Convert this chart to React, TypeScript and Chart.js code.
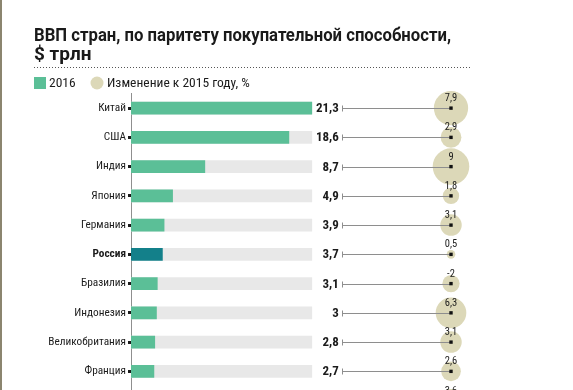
import React, { useEffect, useRef } from 'react';
import { Chart, registerables } from 'chart.js';

Chart.register(...registerables);

// ---------- data ----------
const TITLE = ['ВВП стран, по паритету покупательной способности,', '$ трлн'];
const LEGEND_LABELS = ['2016', 'Изменение к 2015 году, %'];
const COUNTRIES = ['Китай', 'США', 'Индия', 'Япония', 'Германия', 'Россия', 'Бразилия', 'Индонезия', 'Великобритания', 'Франция', 'Мексика'];
const GDP_2016 = [21.3, 18.6, 8.7, 4.9, 3.9, 3.7, 3.1, 3, 2.8, 2.7, 2.3];
const CHANGE_PCT = [7.9, 2.9, 9, 1.8, 3.1, 0.5, -2, 6.3, 3.1, 2.6, 3.6];
const HIGHLIGHT = 'Россия';

// ---------- style ----------
const FAMILY = 'Roboto, "Noto Sans", sans-serif';
const GREEN = '#5bbf97';
const TEAL = '#13808a';
const TRACK = '#e8e8e8';
const BEIGE = '#dcd8b8';
const INK = '#1b1b1b';
const LINE = '#8e8e8e';
const X_MAX = 37.7; // value axis range (bars take the left part, bubble column sits at the right edge)
const R_K = 6.1; // bubble radius per sqrt(|%|)

const fmt = (v: number) => String(v).replace('.', ',');
const GDP_MAX = Math.max(...GDP_2016);

const decor = {
  id: 'decor',
  beforeDatasetDraw(chart: any, args: any) {
    if (args.index !== 3) return;
    const ctx = chart.ctx;
    const track = chart.getDatasetMeta(0);
    const bub = chart.getDatasetMeta(2);
    ctx.save();
    track.data.forEach((bar: any, i: number) => {
      const y = Math.round(bar.y) + 0.5;
      const xEnd = bar.x;
      const cx = bub.data[i].x;
      ctx.fillStyle = INK;
      ctx.font = `bold condensed 13px ${FAMILY}`;
      ctx.textAlign = 'right';
      ctx.textBaseline = 'middle';
      ctx.fillText(fmt(GDP_2016[i]), xEnd + 27, y);
      ctx.strokeStyle = LINE;
      ctx.lineWidth = 1;
      const sx = Math.round(xEnd + 30) + 0.5;
      ctx.beginPath();
      ctx.moveTo(sx, y - 3);
      ctx.lineTo(sx, y + 3);
      ctx.moveTo(sx, y);
      ctx.lineTo(cx, y);
      ctx.stroke();
      ctx.font = `normal condensed 10.5px ${FAMILY}`;
      ctx.textAlign = 'center';
      ctx.fillText(fmt(CHANGE_PCT[i]), cx, y - 10);
    });
    ctx.restore();
  },
  afterDraw(chart: any) {
    const ctx = chart.ctx;
    const top = chart.chartArea.top;
    const left = 34;
    ctx.save();
    // dotted rule
    ctx.strokeStyle = '#555';
    ctx.lineWidth = 1;
    ctx.setLineDash([1, 2]);
    ctx.beginPath();
    const dy = Math.round(top - 26.5) + 0.5;
    ctx.moveTo(left, dy);
    ctx.lineTo(472, dy);
    ctx.stroke();
    ctx.setLineDash([]);
    // legend
    const ly = top - 10.5;
    ctx.fillStyle = GREEN;
    ctx.fillRect(left, ly - 6, 12, 12);
    ctx.fillStyle = INK;
    ctx.font = `normal condensed 13.5px ${FAMILY}`;
    ctx.textAlign = 'left';
    ctx.textBaseline = 'middle';
    ctx.fillText(LEGEND_LABELS[0], left + 15, ly + 0.5);
    ctx.fillStyle = BEIGE;
    ctx.beginPath();
    ctx.arc(97, ly, 6.5, 0, Math.PI * 2);
    ctx.fill();
    ctx.fillStyle = INK;
    ctx.fillText(LEGEND_LABELS[1], 107, ly + 0.5);
    ctx.restore();
  },
};

export default function App() {
  const ref = useRef<HTMLCanvasElement>(null);
  useEffect(() => {
    const chart = new Chart(ref.current as HTMLCanvasElement, {
      type: 'bar',
      data: {
        labels: COUNTRIES,
        datasets: [
          {
            type: 'bar',
            label: 'track',
            data: GDP_2016.map(() => GDP_MAX),
            backgroundColor: TRACK,
            barThickness: 12,
            grouped: false,
            order: 4,
            xAxisID: 'x',
            yAxisID: 'y',
          } as any,
          {
            type: 'bar',
            label: LEGEND_LABELS[0],
            data: GDP_2016,
            backgroundColor: COUNTRIES.map((c) => (c === HIGHLIGHT ? TEAL : GREEN)),
            barThickness: 12,
            grouped: false,
            order: 3,
            xAxisID: 'x',
            yAxisID: 'y',
          } as any,
          {
            type: 'bubble',
            label: LEGEND_LABELS[1],
            data: COUNTRIES.map((c, i) => ({ x: 1, y: c, r: R_K * Math.sqrt(Math.abs(CHANGE_PCT[i])) })),
            backgroundColor: BEIGE,
            borderWidth: 0,
            clip: false,
            order: 2,
            xAxisID: 'xb',
            yAxisID: 'y',
          } as any,
          {
            type: 'bubble',
            label: 'center',
            data: COUNTRIES.map((c) => ({ x: 1, y: c, r: 2.4 })),
            backgroundColor: '#111',
            borderWidth: 0,
            pointStyle: 'rect',
            clip: false,
            order: 1,
            xAxisID: 'xb',
            yAxisID: 'y',
          } as any,
        ],
      },
      options: {
        indexAxis: 'y',
        responsive: false,
        devicePixelRatio: 1,
        animation: false,
        events: [],
        layout: { padding: { left: 34, right: 122, top: 0, bottom: 0 }, autoPadding: false },
        scales: {
          x: { type: 'linear', display: false, min: 0, max: X_MAX },
          xb: { type: 'linear', display: false, min: 0, max: 1, axis: 'x' },
          y: {
            type: 'category',
            position: 'left',
            offset: true,
            afterFit: (s: any) => {
              s.width = 97;
            },
            grid: {
              offset: false,
              drawOnChartArea: false,
              drawTicks: true,
              tickLength: 3,
              tickWidth: 3,
              tickColor: INK,
            },
            border: { display: true, color: '#8f8f8f', width: 1 },
            ticks: {
              autoSkip: false,
              padding: 2,
              color: INK,
              font: (ctx: any) => ({
                family: FAMILY,
                size: 11.3,
                weight: COUNTRIES[ctx.index] === HIGHLIGHT ? 'bold condensed' : 'condensed',
              }),
            },
          },
        } as any,
        plugins: {
          legend: { display: false },
          tooltip: { enabled: false },
          title: {
            display: true,
            text: TITLE,
            align: 'start',
            color: '#1a1a1a',
            font: { family: FAMILY, size: 19, weight: 'bold', lineHeight: 1.0 },
            padding: { top: 26.5, bottom: 29 },
          },
        },
      } as any,
      plugins: [decor],
    });
    return () => chart.destroy();
  }, []);

  return (
    <div style={{ position: 'fixed', left: 0, top: 0, width: 573, height: 390, overflow: 'hidden', background: '#fff' }}>
      <canvas ref={ref} width={573} height={424} style={{ display: 'block' }} />
      <div style={{ position: 'absolute', left: 0, top: 0, width: 2, height: 390, background: '#8b856f' }} />
    </div>
  );
}
